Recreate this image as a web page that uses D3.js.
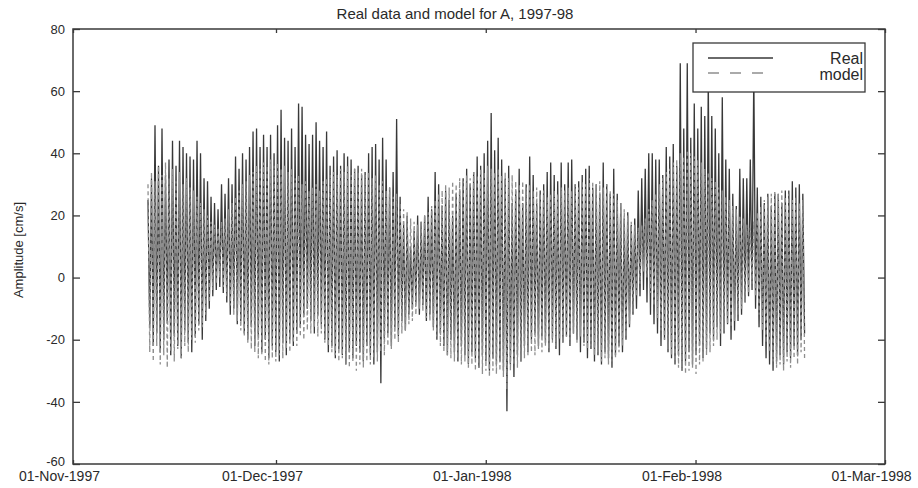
<!DOCTYPE html>
<meta charset="utf-8">
<style>
body { margin: 0; background: #fff; }
text { font-family: "Liberation Sans", Arial, sans-serif; fill: #2a2a2a; }
</style>
<body>
<script src="https://d3js.org/d3.v7.min.js"></script>
<script>

// tide cycle extremes, one value per semidiurnal cycle
var startTime = new Date(1997, 10, 12, 2, 0);
var cycleHours = 12.42;

var realHigh = [
  25, 32, 49, 36, 48, 33, 38, 44, 36, 44, 42, 40, 39, 38, 44, 40, 32, 31, 26, 24,
  22, 30, 27, 32, 30, 39, 35, 40, 38, 42, 47, 48, 42, 46, 42, 46, 40, 49, 54, 45,
  44, 48, 42, 56, 55, 46, 43, 46, 50, 44, 42, 47, 36, 39, 41, 36, 40, 39, 38, 35,
  36, 33, 34, 40, 42, 43, 38, 45, 38, 29, 34, 51, 26, 17, 20, 10, 15, 20, 18, 20,
  26, 22, 34, 30, 23, 28, 25, 20, 27, 28, 32, 35, 30, 34, 39, 36, 40, 44, 53, 41,
  45, 38, 32, 36, 24, 28, 35, 24, 30, 39, 33, 24, 28, 30, 34, 37, 33, 31, 37, 30,
  37, 38, 30, 31, 33, 35, 36, 29, 30, 27, 37, 30, 27, 35, 27, 24, 19, 21, 17, 19,
  28, 32, 35, 40, 40, 38, 38, 33, 42, 39, 43, 36, 69, 48, 69, 45, 56, 48, 55, 52,
  64, 52, 48, 40, 58, 38, 35, 27, 23, 35, 32, 32, 38, 66, 29, 26, 24, 27, 23, 27,
  27, 24, 28, 28, 31, 29, 30, 27
];
var realLow = [
  -16, -22, -18, -24, -20, -14, -25, -19, -22, -26, -17, -21, -24, -19, -15, -20, -14, -10, -6, -4,
  -3, -5, -8, -12, -10, -15, -14, -18, -20, -16, -22, -19, -24, -20, -26, -22, -24, -27, -21, -25,
  -20, -22, -18, -16, -12, -10, -14, -18, -12, -15, -20, -24, -22, -26, -23, -25, -28, -24, -26, -22,
  -24, -27, -22, -25, -28, -24, -34, -20, -18, -22, -16, -19, -14, -17, -12, -10, -8, -12, -9, -14,
  -12, -16, -20, -18, -22, -25, -20, -24, -27, -22, -25, -28, -24, -26, -29, -25, -27, -30, -26, -28,
  -27, -30, -43, -28, -32, -25, -27, -22, -24, -20, -18, -22, -19, -21, -24, -20, -23, -25, -21, -19,
  -22, -18, -20, -24, -21, -26, -23, -27, -25, -28, -24, -26, -29, -25, -22, -24, -20, -16, -12, -10,
  -6, -4, -8, -12, -15, -18, -22, -20, -24, -26, -28, -25, -30, -27, -24, -28, -25, -22, -26, -23,
  -18, -20, -16, -22, -18, -15, -20, -17, -14, -12, -8, -6, -4, -10, -16, -22, -26, -28, -30, -27,
  -25, -28, -24, -26, -22, -25, -20, -18
];
var modelHigh = [
  30, 34, 31, 36, 33, 37, 32, 35, 31, 34, 30, 32, 29, 28, 26, 24, 22, 20, 18, 17,
  16, 18, 19, 22, 24, 26, 28, 30, 31, 33, 34, 36, 35, 37, 36, 38, 36, 37, 35, 36,
  34, 35, 32, 33, 30, 31, 28, 29, 30, 28, 31, 32, 33, 34, 33, 35, 34, 36, 33, 35,
  34, 35, 33, 34, 32, 33, 30, 31, 28, 29, 26, 27, 24, 22, 21, 19, 18, 17, 18, 20,
  21, 23, 25, 27, 28, 30, 29, 31, 30, 32, 31, 33, 32, 34, 33, 35, 34, 36, 35, 34,
  35, 33, 34, 32, 33, 31, 30, 31, 29, 30, 28, 29, 27, 28, 26, 27, 28, 27, 29, 28,
  29, 28, 30, 29, 31, 30, 32, 31, 30, 31, 29, 30, 28, 27, 25, 24, 22, 20, 18, 17,
  16, 17, 19, 22, 25, 27, 30, 32, 34, 35, 37, 38, 40, 39, 41, 40, 39, 38, 37, 35,
  34, 32, 31, 29, 28, 26, 25, 23, 22, 20, 19, 17, 16, 18, 21, 23, 25, 26, 27, 28,
  27, 28, 26, 27, 25, 26, 24, 25
];
var modelLow = [
  -24, -27, -22, -28, -25, -29, -24, -27, -23, -26, -22, -24, -20, -21, -17, -16, -12, -8, -4, -2,
  0, -3, -6, -9, -12, -14, -17, -19, -21, -23, -24, -26, -25, -27, -28, -26, -27, -25, -26, -23,
  -24, -21, -22, -19, -20, -17, -18, -16, -19, -18, -21, -22, -24, -25, -27, -26, -28, -29, -27, -30,
  -28, -29, -27, -28, -26, -27, -24, -25, -22, -23, -20, -21, -18, -17, -15, -14, -12, -10, -11, -13,
  -14, -17, -19, -22, -24, -25, -26, -27, -26, -28, -27, -29, -28, -30, -29, -31, -30, -32, -30, -31,
  -30, -32, -36, -30, -28, -29, -27, -26, -25, -24, -25, -23, -24, -22, -23, -21, -22, -20, -21, -19,
  -20, -18, -21, -19, -22, -23, -22, -25, -24, -27, -26, -28, -27, -26, -24, -22, -19, -15, -11, -6,
  -2, 2, 0, -5, -9, -13, -17, -20, -23, -25, -27, -29, -30, -31, -30, -29, -31, -28, -27, -25,
  -24, -22, -20, -18, -17, -15, -16, -14, -12, -10, -8, -5, -2, -6, -12, -17, -21, -24, -27, -29,
  -28, -30, -27, -29, -26, -28, -24, -26
];

var yTicks = [-60, -40, -20, 0, 20, 40, 60, 80];
var xTicks = [new Date(1997, 10, 1), new Date(1997, 11, 1), new Date(1998, 0, 1),
              new Date(1998, 1, 1), new Date(1998, 2, 1)];
var legendNames = ["Real", "model"];

// set the dimensions and margins of the graph
var margin = {top: 29, right: 33, bottom: 24, left: 73},
    width = 918 - margin.left - margin.right,
    height = 488 - margin.top - margin.bottom;

var x = d3.scaleTime().domain([xTicks[0], xTicks[4]]).range([0, width]);
var y = d3.scaleLinear().domain([-60, 80]).range([height, 0]);

// turn high/low pairs into a zigzag of points
function toPoints(hi, lo) {
  var pts = [];
  for (var i = 0; i < hi.length; i++) {
    var t = startTime.getTime() + i * cycleHours * 3600000;
    pts.push({t: new Date(t), v: hi[i]});
    pts.push({t: new Date(t + cycleHours * 1800000), v: lo[i]});
  }
  return pts;
}

var line = d3.line()
    .x(function(d) { return x(d.t); })
    .y(function(d) { return y(d.v); });

var svg = d3.select("body").append("svg")
    .attr("width", 918)
    .attr("height", 488);

var g = svg.append("g")
    .attr("transform", "translate(" + margin.left + "," + margin.top + ")");

// the two series
g.append("path")
    .datum(toPoints(realHigh, realLow))
    .attr("fill", "none")
    .attr("stroke", "#383838")
    .attr("stroke-width", 1.3)
    .attr("d", line);

g.append("path")
    .datum(toPoints(modelHigh, modelLow))
    .attr("fill", "none")
    .attr("stroke", "#8e8e8e")
    .attr("stroke-width", 1.3)
    .attr("stroke-dasharray", "4,3")
    .attr("d", line);

// frame
g.append("rect")
    .attr("width", width)
    .attr("height", height)
    .attr("fill", "none")
    .attr("stroke", "#3a3a3a")
    .attr("stroke-width", 1.5);

// y ticks, inward on both sides
g.append("g")
    .call(d3.axisLeft(y).tickValues(yTicks).tickSize(-7).tickPadding(8)
      .tickFormat(function(d) { return String(d); }))
    .call(function(a) { a.select(".domain").remove(); })
    .selectAll("text")
    .style("font-size", "13px")
    .attr("dy", function(d) { return d === -60 ? "0.1em" : "0.32em"; });
g.append("g")
    .attr("transform", "translate(" + width + ",0)")
    .call(d3.axisRight(y).tickValues(yTicks).tickSize(-7).tickFormat(""))
    .call(function(a) { a.select(".domain").remove(); });

// x ticks
g.append("g")
    .attr("transform", "translate(0," + height + ")")
    .call(d3.axisBottom(x).tickValues(xTicks).tickSize(-4).tickPadding(7)
      .tickFormat(d3.timeFormat("%d-%b-%Y")))
    .call(function(a) { a.select(".domain").remove(); })
    .selectAll("text").style("font-size", "14px").attr("dx", -14);
g.append("g")
    .call(d3.axisTop(x).tickValues(xTicks).tickSize(-4).tickFormat(""))
    .call(function(a) { a.select(".domain").remove(); });

g.selectAll(".tick line").attr("stroke", "#3a3a3a").attr("stroke-width", 1.3);
g.selectAll(".tick text")
    .style("font-family", "'Liberation Sans', Arial, sans-serif")
    .attr("fill", "#2a2a2a");

// title
svg.append("text")
    .attr("x", 455)
    .attr("y", 19)
    .attr("text-anchor", "middle")
    .style("font-size", "15px")
    .text("Real data and model for A, 1997-98");

// y label
svg.append("text")
    .attr("transform", "rotate(-90)")
    .attr("x", -250)
    .attr("y", 23)
    .attr("text-anchor", "middle")
    .style("font-size", "13px")
    .text("Amplitude [cm/s]");

// legend
var lg = svg.append("g");
lg.append("rect")
    .attr("x", 693).attr("y", 43)
    .attr("width", 172).attr("height", 49)
    .attr("fill", "#fff")
    .attr("stroke", "#3a3a3a")
    .attr("stroke-width", 1.3);
lg.selectAll("line")
    .data(legendNames)
    .enter().append("line")
    .attr("x1", 708).attr("x2", 773)
    .attr("y1", function(d, i) { return 58 + i * 15; })
    .attr("y2", function(d, i) { return 58 + i * 15; })
    .attr("stroke", function(d, i) { return i ? "#8e8e8e" : "#383838"; })
    .attr("stroke-width", 1.5)
    .attr("stroke-dasharray", function(d, i) { return i ? "11,11" : null; });
lg.selectAll("text")
    .data(legendNames)
    .enter().append("text")
    .attr("x", 863)
    .attr("y", function(d, i) { return 64 + i * 16; })
    .attr("text-anchor", "end")
    .style("font-size", "16px")
    .text(function(d) { return d; });

</script>
</body>
